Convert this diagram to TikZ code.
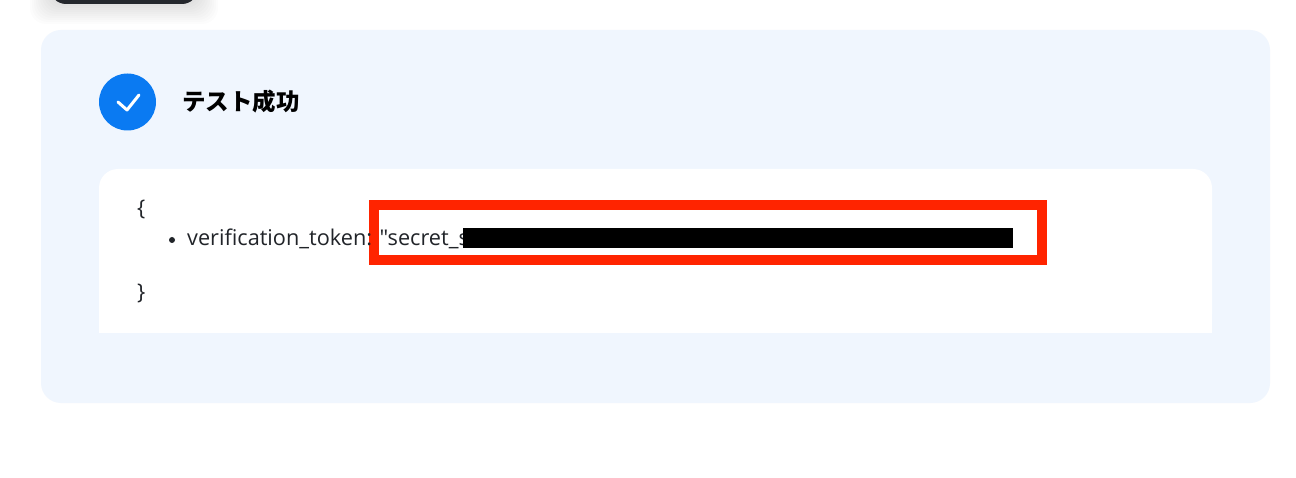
\documentclass[tikz,border=0pt]{standalone}
\usepackage{fontspec}
\setmainfont{Open Sans}[Ligatures=TeXOff]
\newfontfamily\jpfont{Noto Sans CJK JP}
\definecolor{panelblue}{RGB}{240,246,254}
\definecolor{checkblue}{RGB}{10,122,242}
\definecolor{markred}{RGB}{255,36,0}
\definecolor{inkgray}{RGB}{33,36,41}
\definecolor{btndark}{RGB}{36,39,45}
\tikzset{
  panel/.style={fill=panelblue, rounded corners=20pt},
  codebox/.style={fill=white, rounded corners=19pt},
  codetext/.style={anchor=base west, inner sep=0pt, text=inkgray,
    font=\fontsize{21.7}{25}\selectfont},
  marker/.style={draw=markred, line width=10pt},
  checkmark/.style={draw=white, line width=3pt, line cap=round, line join=round},
}

\begin{document}
\begin{tikzpicture}[x=1pt,y=-1pt]
\useasboundingbox (0,0) rectangle (1296,478);
\clip (0,0) rectangle (1296,478);
\fill[white] (0,0) rectangle (1296,478);
% button cut off at the top, with its shadow
\foreach \s in {1,...,10}
  \fill[black, opacity=0.012, rounded corners=16pt]
    (50-2*\s,-40) rectangle (198+2*\s,4+2*\s);
\fill[btndark, rounded corners=16pt] (50,-40) rectangle (198,4);
% panel and code box
\fill[panel] (41,30) rectangle (1270,403);
\fill[codebox] (99,169) rectangle (1212,333);
\fill[white] (99,300) rectangle (1212,333);
% header
\node[circle, fill=checkblue, minimum size=57pt, inner sep=0pt] (check) at (127.5,102) {};
\draw[checkmark] ([shift={(-9.5,0)}]check.center) -- ++(9,8) -- ++(12,-15);
\node[anchor=west, inner sep=0pt, font=\jpfont\bfseries\fontsize{23.5}{28}\selectfont]
  (title) at (182,102) {テスト成功};
% hidden value and highlight
\draw[marker] (374,205) rectangle (1042,260);
% code
\node[codetext] (lbrace) at (137,216) {\{};
\node[circle, fill=inkgray, minimum size=6pt, inner sep=0pt] (dot) at (172,240) {};
\node[codetext] (token) at (187,246) {verification\_token: "secret\_s};
\node[codetext] (rbrace) at (137,300) {\}};
\fill[black] (463,228) rectangle (1013,248);
\end{tikzpicture}
\end{document}
